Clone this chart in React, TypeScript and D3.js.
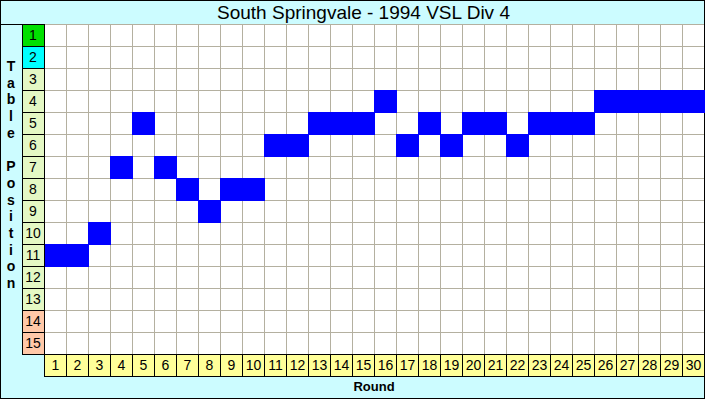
import React from "react";
import * as d3 from "d3";

const title = "South Springvale - 1994 VSL Div 4";
const rounds: number[] = Array.from({ length: 30 }, (_, i) => i + 1);
const positions: number[] = Array.from({ length: 15 }, (_, i) => i + 1);
const tablePosition: number[] = [11, 11, 10, 7, 5, 7, 8, 9, 8, 8, 6, 6, 5, 5, 5, 4, 6, 5, 6, 5, 5, 6, 5, 5, 5, 4, 4, 4, 4, 4];
const yTitle = "Table Position";
const xTitle = "Round";

const W = 705;
const H = 399;
const left = 44;
const right = 704;
const top = 24;
const bottom = 354;

function rowColor(p: number): string {
  if (p === 1) return "#00e000";
  if (p === 2) return "#00ffff";
  if (p >= 14) return "#ffc8a8";
  return "#e4f8c4";
}

export default function App() {
  const x = d3.scaleBand<number>().domain(rounds).range([left, right]);
  const y = d3.scaleBand<number>().domain(positions).range([top, bottom]);
  const font = "Arial, 'Liberation Sans', sans-serif";
  const letters = yTitle.split("");
  return (
    <div style={{ position: "absolute", left: 0, top: 0 }}>
      <svg width={W} height={H} style={{ display: "block" }}>
        <rect x={0} y={0} width={W} height={H} fill="#ccfcff" />
        <rect x={0.5} y={0.5} width={W - 1} height={H - 1} fill="none" stroke="#000" />
        <text x={363.5} y={19} textAnchor="middle" fontFamily={font} fontSize={19} fill="#000">{title}</text>
        <line x1={0} x2={W} y1={top + 0.5} y2={top + 0.5} stroke="#000" />
        <rect x={left} y={top} width={right - left} height={bottom - top} fill="#fff" />
        {rounds.map((r) => (
          <line key={"v" + r} x1={(x(r) as number) + 0.5} x2={(x(r) as number) + 0.5} y1={top} y2={bottom} stroke="#b4b0a0" />
        ))}
        {positions.map((p) => (
          <line key={"h" + p} x1={left} x2={right} y1={(y(p) as number) + 0.5} y2={(y(p) as number) + 0.5} stroke="#b4b0a0" />
        ))}
        {rounds.map((r, i) => (
          <rect key={"b" + r} x={x(r)} y={y(tablePosition[i])} width={x.bandwidth() + 1} height={y.bandwidth() + 1} fill="#0000ff" />
        ))}
        {positions.map((p) => (
          <g key={"rl" + p}>
            <rect x={22.5} y={(y(p) as number) + 0.5} width={left - 22} height={y.bandwidth()} fill={rowColor(p)} stroke="#000" />
            <text x={33} y={(y(p) as number) + y.bandwidth() / 2 + 5} textAnchor="middle" fontFamily={font} fontSize={14} fill="#000">{p}</text>
          </g>
        ))}
        {rounds.map((r) => (
          <g key={"cl" + r}>
            <rect x={(x(r) as number) + 0.5} y={bottom + 0.5} width={x.bandwidth()} height={22} fill="#ffff99" stroke="#000" />
            <text x={(x(r) as number) + x.bandwidth() / 2 + 0.5} y={bottom + 16} textAnchor="middle" fontFamily={font} fontSize={14} fill="#000">{r}</text>
          </g>
        ))}
        <line x1={left} x2={right} y1={bottom + 0.5} y2={bottom + 0.5} stroke="#000" />
        {letters.map((c, i) => (
          <text key={"yt" + i} x={11} y={71 + i * 16.7} textAnchor="middle" fontFamily={font} fontSize={14} fontWeight="bold" fill="#000">{c}</text>
        ))}
        <text x={374} y={391} textAnchor="middle" fontFamily={font} fontSize={13} fontWeight="bold" fill="#000">{xTitle}</text>
      </svg>
    </div>
  );
}
